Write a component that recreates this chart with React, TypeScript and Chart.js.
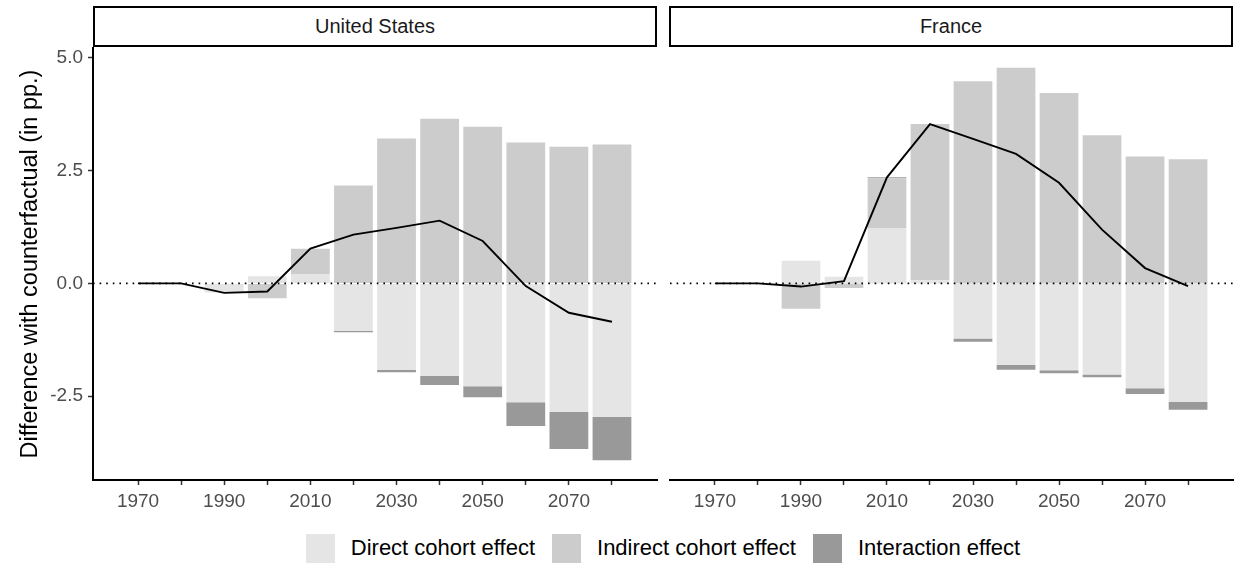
import React, { useEffect, useRef } from 'react';
import { Chart, registerables } from 'chart.js';

Chart.register(...registerables);

const years = [1970, 1980, 1990, 2000, 2010, 2020, 2030, 2040, 2050, 2060, 2070, 2080];
const yTickValues = [-2.5, 0, 2.5, 5];
const labelledYears = [1970, 1990, 2010, 2030, 2050, 2070];

const usDirect = [0, 0, -0.2, 0.16, 0.21, -1.05, -1.92, -2.05, -2.28, -2.63, -2.85, -2.96];
const usIndirect = [0, 0, 0, -0.33, 0.56, 2.17, 3.21, 3.65, 3.47, 3.12, 3.03, 3.08];
const usInteraction = [0, 0, 0, 0, 0, -0.03, -0.05, -0.2, -0.24, -0.53, -0.82, -0.96];
const usTotal = [0, 0, -0.21, -0.18, 0.77, 1.08, 1.23, 1.39, 0.94, -0.06, -0.65, -0.85];

const frDirect = [0, 0, 0.5, 0.15, 1.23, 0.07, -1.22, -1.81, -1.925, -2.02, -2.32, -2.62];
const frIndirect = [0, 0, -0.56, -0.1, 1.1, 3.46, 4.48, 4.78, 4.22, 3.28, 2.81, 2.75];
const frInteraction = [0, 0, 0, 0, 0.02, 0, -0.07, -0.1, -0.065, -0.06, -0.13, -0.18];
const frTotal = [0, 0, -0.07, 0.05, 2.35, 3.53, 3.2, 2.87, 2.23, 1.19, 0.34, -0.06];

const seriesLabels = ['Direct cohort effect', 'Indirect cohort effect', 'Interaction effect'];
const seriesColors = ['#e5e5e5', '#cccccc', '#999999'];
const panelTitles = ['United States', 'France'];

const FONT = "'Liberation Sans', Arial, Helvetica, sans-serif";
const X_MIN = 1959.55;
const X_MAX = 2090.45;
const Y_MIN = -4.355;
const Y_MAX = 5.215;

const zeroLine = {
  id: 'zeroLine',
  beforeDatasetDraw(chart: any, args: any) {
    if (args.meta.type !== 'line') return;
    const { ctx, chartArea, scales } = chart;
    const y = scales.y.getPixelForValue(0);
    ctx.save();
    ctx.strokeStyle = '#000';
    ctx.lineWidth = 1.6;
    ctx.setLineDash([1.6, 5]);
    ctx.beginPath();
    ctx.moveTo(chartArea.left, y);
    ctx.lineTo(chartArea.right, y);
    ctx.stroke();
    ctx.restore();
  },
};

function makeConfig(series: number[][], total: number[], first: boolean, padding: any): any {
  const datasets: any[] = series.map((vals, k) => ({
    type: 'bar',
    label: seriesLabels[k],
    data: years.map((x, i) => ({ x, y: vals[i] })),
    backgroundColor: seriesColors[k],
    borderWidth: 0,
    stack: 'bars',
    categoryPercentage: 1,
    barPercentage: 0.9,
  }));
  datasets.push({
    type: 'line',
    label: 'Total',
    data: years.map((x, i) => ({ x, y: total[i] })),
    borderColor: '#000',
    borderWidth: 1.9,
    pointRadius: 0,
    tension: 0,
    fill: false,
    stack: 'total',
    order: -1,
  });
  return {
    type: 'bar',
    data: { datasets },
    plugins: [zeroLine],
    options: {
      responsive: false,
      animation: false,
      events: [],
      layout: { padding },
      plugins: { legend: { display: false }, tooltip: { enabled: false } },
      scales: {
        x: {
          type: 'linear',
          min: X_MIN,
          max: X_MAX,
          offset: false,
          stacked: true,
          afterBuildTicks: (scale: any) => {
            scale.ticks = years.map((v) => ({ value: v }));
          },
          afterFit: (scale: any) => {
            scale.height = 40;
          },
          ticks: {
            autoSkip: false,
            maxRotation: 0,
            color: '#4d4d4d',
            padding: 5,
            font: { family: FONT, size: 19 },
            callback: (v: any) => (labelledYears.includes(Number(v)) ? String(v) : ''),
          },
          grid: {
            display: true,
            drawOnChartArea: false,
            drawTicks: true,
            tickLength: 5,
            tickColor: '#333',
            tickWidth: 1.5,
            offset: false,
          },
          border: { display: true, color: '#000', width: 2 },
        },
        y: {
          type: 'linear',
          min: Y_MIN,
          max: Y_MAX,
          stacked: true,
          display: first,
          afterBuildTicks: (scale: any) => {
            scale.ticks = yTickValues.map((v) => ({ value: v }));
          },
          afterFit: (scale: any) => {
            scale.width = first ? 93 : 0;
          },
          title: {
            display: first,
            text: 'Difference with counterfactual (in pp.)',
            color: '#000',
            font: { family: FONT, size: 23.5 },
            padding: { top: 16, bottom: 0 },
          },
          ticks: {
            color: '#4d4d4d',
            padding: 5,
            font: { family: FONT, size: 19 },
            callback: (v: any) => Number(v).toFixed(1),
          },
          grid: {
            display: true,
            drawOnChartArea: false,
            drawTicks: true,
            tickLength: 5,
            tickColor: '#333',
            tickWidth: 1.5,
          },
          border: { display: true, color: '#000', width: 2 },
        },
      },
    },
  };
}

export default function App() {
  const leftRef = useRef<HTMLCanvasElement | null>(null);
  const rightRef = useRef<HTMLCanvasElement | null>(null);

  useEffect(() => {
    const c1 = new Chart(
      leftRef.current as HTMLCanvasElement,
      makeConfig([usDirect, usIndirect, usInteraction], usTotal, true, { left: 0, right: 3, top: 48, bottom: 0 })
    );
    const c2 = new Chart(
      rightRef.current as HTMLCanvasElement,
      makeConfig([frDirect, frIndirect, frInteraction], frTotal, false, { left: 10, right: 2, top: 48, bottom: 0 })
    );
    return () => {
      c1.destroy();
      c2.destroy();
    };
  }, []);

  const stripStyle = (left: number): React.CSSProperties => ({
    position: 'absolute',
    left,
    top: 6,
    width: 564,
    height: 41,
    boxSizing: 'border-box',
    border: '2px solid #000',
    background: '#fff',
    display: 'flex',
    alignItems: 'center',
    justifyContent: 'center',
    fontFamily: FONT,
    fontSize: 20,
    color: '#1a1a1a',
  });

  return (
    <div style={{ position: 'absolute', left: 0, top: 0, width: 1235, height: 588, background: '#fff', overflow: 'hidden' }}>
      <canvas ref={leftRef} width={660} height={520} style={{ position: 'absolute', left: 0, top: 0 }} />
      <canvas ref={rightRef} width={575} height={520} style={{ position: 'absolute', left: 660, top: 0 }} />
      <div style={stripStyle(93)}>{panelTitles[0]}</div>
      <div style={stripStyle(669)}>{panelTitles[1]}</div>
      <div
        style={{
          position: 'absolute',
          left: 93,
          width: 1140,
          top: 533,
          height: 30,
          display: 'flex',
          justifyContent: 'center',
          alignItems: 'center',
          fontFamily: FONT,
          fontSize: 22,
          color: '#000',
        }}
      >
        {seriesLabels.map((label, k) => (
          <React.Fragment key={label}>
            <span style={{ display: 'inline-block', width: 29, height: 29, background: seriesColors[k], marginRight: 16 }} />
            <span style={{ marginRight: k < seriesLabels.length - 1 ? 17 : 0, whiteSpace: 'nowrap' }}>{label}</span>
          </React.Fragment>
        ))}
      </div>
    </div>
  );
}
